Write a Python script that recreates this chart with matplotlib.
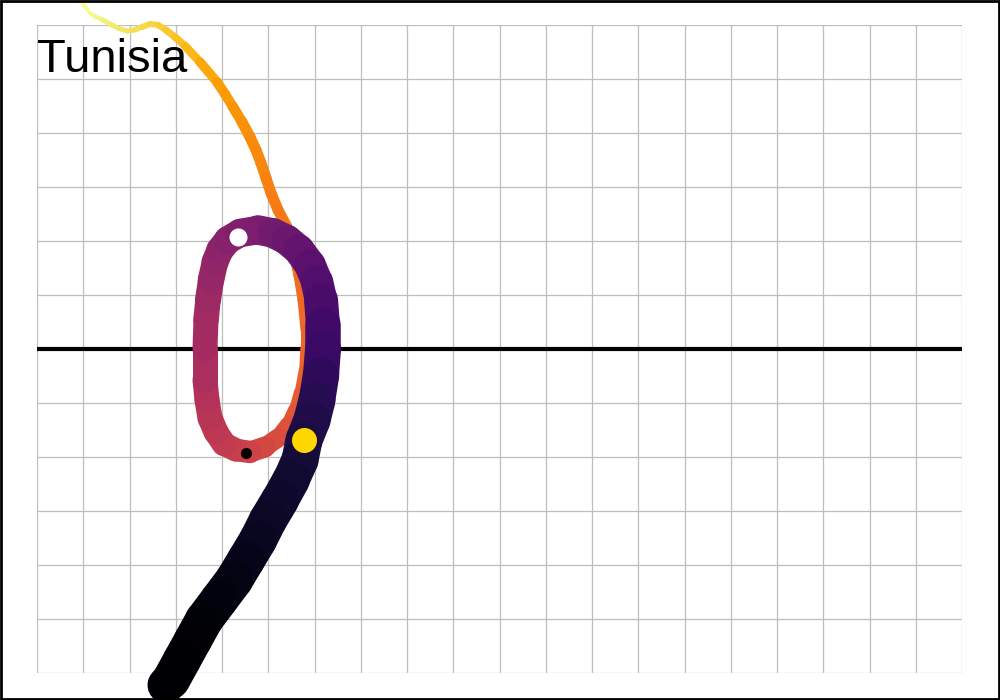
import numpy as np
import matplotlib
matplotlib.use("Agg")
import matplotlib.pyplot as plt
from matplotlib.collections import LineCollection
from matplotlib.patches import Rectangle

# track of Tunisia (grid units), from latest (yellow) to earliest (black)
track_x = [0.886, 1.016, 1.146, 1.276, 1.427, 1.578, 1.751, 1.946, 2.097, 2.270,
           2.443, 2.616, 2.789, 2.984, 3.200, 3.524, 3.892, 4.065, 4.238, 4.432,
           4.605, 4.735, 4.843, 4.951, 5.059, 5.211, 5.405, 5.535, 5.643, 5.730,
           5.795, 5.795, 5.773, 5.686, 5.578, 5.427, 5.211, 4.930, 4.605, 4.303,
           4.043, 3.870, 3.741, 3.676, 3.632, 3.632, 3.654, 3.697, 3.762, 3.849,
           3.957, 4.130, 4.389, 4.778, 5.103, 5.405, 5.665, 5.903, 6.054, 6.141,
           6.184, 6.184, 6.141, 6.054, 5.946, 5.773, 5.686, 5.492, 5.254, 4.995,
           4.778, 4.519, 4.259, 3.935, 3.611, 3.373, 3.135, 2.897, 2.789]
track_y = [6.537, 6.370, 6.222, 6.148, 6.093, 6.019, 5.944, 5.889, 5.907, 5.963,
           6.019, 6.000, 5.907, 5.778, 5.611, 5.315, 4.944, 4.722, 4.481, 4.204,
           3.926, 3.685, 3.444, 3.167, 2.889, 2.574, 2.259, 1.833, 1.370, 0.907,
           0.352, 0.000, -0.389, -0.796, -1.130, -1.407, -1.648, -1.815, -1.907, -1.870,
           -1.759, -1.537, -1.278, -0.944, -0.574, 0.000, 0.537, 0.907, 1.278, 1.611,
           1.833, 2.019, 2.148, 2.204, 2.148, 2.019, 1.833, 1.556, 1.241, 0.907,
           0.444, 0.000, -0.481, -0.944, -1.315, -1.685, -2.056, -2.426, -2.796, -3.167,
           -3.537, -3.907, -4.278, -4.648, -5.019, -5.389, -5.759, -6.130, -6.222]
# size value per point (drawn width)
track_size = [4, 4, 4, 4, 5, 5, 5, 5, 5, 6,
              6, 6, 7, 7, 8, 9, 10, 10, 10, 11,
              11, 11, 11, 11, 11, 11, 11, 10, 9, 9,
              9, 9, 10, 11, 13, 15, 18, 20, 22, 23,
              24, 25, 25, 25, 25, 25, 25, 26, 26, 27,
              27, 28, 28, 29, 30, 30, 31, 31, 32, 33,
              35, 36, 36, 37, 37, 37, 37, 37, 38, 38,
              38, 38, 38, 38, 38, 38, 38, 38, 36]
# colour value per point (0 = black, 1 = yellow)
track_col = [1.00, 0.99, 0.98, 0.97, 0.96, 0.95, 0.94, 0.93, 0.92, 0.91,
             0.90, 0.89, 0.88, 0.86, 0.85, 0.82, 0.79, 0.78, 0.77, 0.76,
             0.75, 0.74, 0.74, 0.73, 0.72, 0.71, 0.70, 0.69, 0.68, 0.67,
             0.66, 0.66, 0.65, 0.64, 0.62, 0.61, 0.59, 0.58, 0.56, 0.54,
             0.53, 0.51, 0.50, 0.49, 0.47, 0.45, 0.44, 0.43, 0.41, 0.40,
             0.39, 0.38, 0.36, 0.35, 0.33, 0.31, 0.29, 0.27, 0.25, 0.23,
             0.21, 0.19, 0.17, 0.15, 0.13, 0.12, 0.10, 0.09, 0.08, 0.07,
             0.06, 0.05, 0.04, 0.03, 0.02, 0.01, 0.005, 0.0, 0.0]

# marker points
white_pt = (4.346, 2.074)
black_pt = (4.519, -1.926)
gold_pt = (5.773, -1.685)

fig = plt.figure(figsize=(10, 7), dpi=100, facecolor='white')
ax = fig.add_axes([0.037, 27/700, 0.925, 648/700])
ax.set_xlim(0, 20)
ax.set_ylim(-6, 6)
ax.set_xticks(range(0, 21))
ax.set_yticks(range(-6, 7))
ax.grid(True, color='#bebebe', linewidth=0.9)
ax.tick_params(length=0, labelbottom=False, labelleft=False)
for s in ax.spines.values():
    s.set_visible(False)
ax.set_axisbelow(True)

ax.axhline(0, color='black', linewidth=3, zorder=2)

pts = np.column_stack([track_x, track_y])
segs = np.stack([pts[:-1], pts[1:]], axis=1)
size = np.array(track_size, dtype=float)
col = np.array(track_col)
seg_w = (size[:-1] + size[1:]) / 2 * 72 / 100
seg_c = plt.cm.inferno((col[:-1] + col[1:]) / 2)
lc = LineCollection(segs, linewidths=seg_w, colors=seg_c, capstyle='round',
                    joinstyle='round', zorder=3, clip_on=False)
ax.add_collection(lc)

ax.plot(*white_pt, 'o', color='white', markersize=13, markeredgewidth=0, zorder=4, clip_on=False)
ax.plot(*black_pt, 'o', color='black', markersize=8, markeredgewidth=0, zorder=4, clip_on=False)
ax.plot(*gold_pt, 'o', color='#ffd700', markersize=18, markeredgewidth=0, zorder=4, clip_on=False)

ax.text(0, 5.13, 'Tunisia', fontsize=34, family='Liberation Sans', color='black',
        ha='left', va='baseline', zorder=5)

fig.patches.append(Rectangle((0.001, 0.0015), 0.998, 0.997, transform=fig.transFigure,
                             fill=False, edgecolor='black', linewidth=2))

fig.savefig('out.png', dpi=100, facecolor='white')
